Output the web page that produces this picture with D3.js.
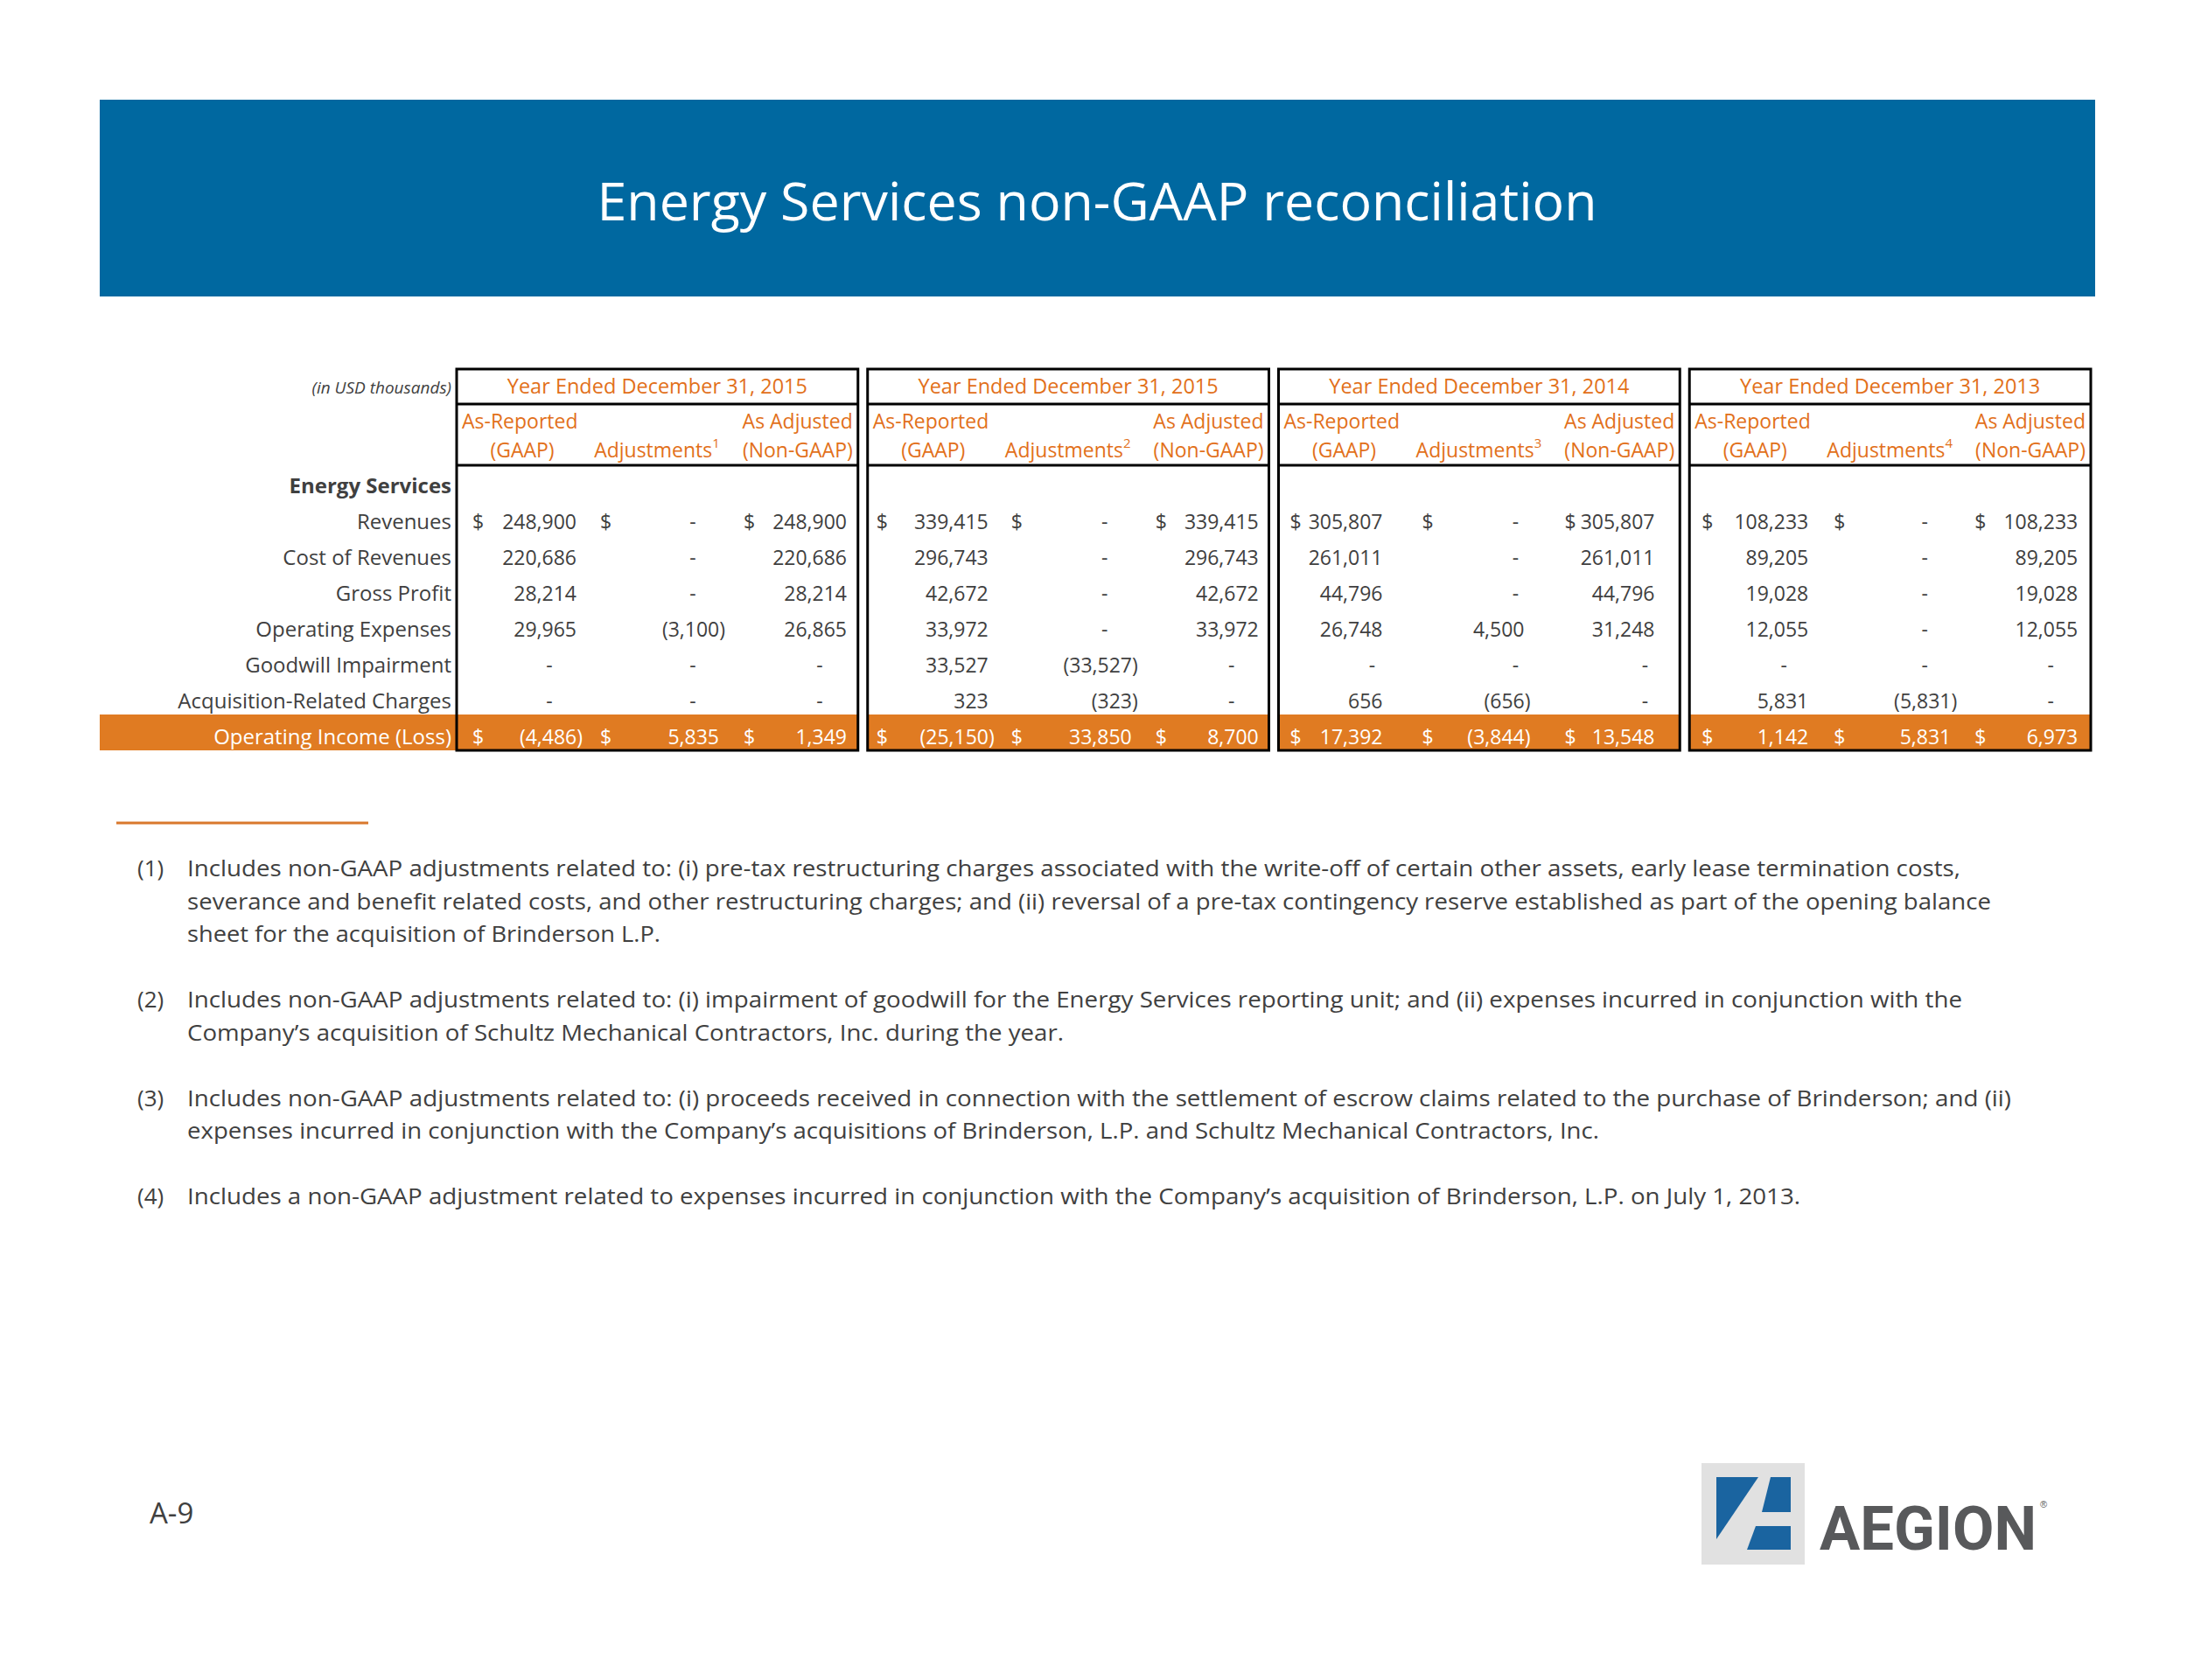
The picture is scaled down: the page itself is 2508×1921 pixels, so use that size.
<!DOCTYPE html>
<html><head><meta charset="utf-8">
<script src="https://cdn.jsdelivr.net/npm/d3@7"></script>
<style>body{margin:0;background:#fff}svg{display:block}</style>
</head><body>
<svg id="chart" width="2508" height="1921"></svg>
<script>
// ---------- DATA ----------
const titleText = "Energy Services non-GAAP reconciliation";
const unitNote = "(in USD thousands)";
const periodTitles = ["Year Ended December 31, 2015", "Year Ended December 31, 2015", "Year Ended December 31, 2014", "Year Ended December 31, 2013"];
const footnoteMarks = ["1", "2", "3", "4"];
const sectionLabel = "Energy Services";
const rowLabels = ["Revenues", "Cost of Revenues", "Gross Profit", "Operating Expenses", "Goodwill Impairment", "Acquisition-Related Charges", "Operating Income (Loss)"];
const dollarRows = ["Revenues", "Operating Income (Loss)"];
const totalRow = "Operating Income (Loss)";

// Period 1: Year ended Dec 31, 2015 (footnote 1)
const gaapP1 = [248900, 220686, 28214, 29965, 0, 0, -4486];
const adjP1  = [0, 0, 0, -3100, 0, 0, 5835];
const nonP1  = [248900, 220686, 28214, 26865, 0, 0, 1349];
// Period 2: Year ended Dec 31, 2015 (footnote 2)
const gaapP2 = [339415, 296743, 42672, 33972, 33527, 323, -25150];
const adjP2  = [0, 0, 0, 0, -33527, -323, 33850];
const nonP2  = [339415, 296743, 42672, 33972, 0, 0, 8700];
// Period 3: Year ended Dec 31, 2014 (footnote 3)
const gaapP3 = [305807, 261011, 44796, 26748, 0, 656, 17392];
const adjP3  = [0, 0, 0, 4500, 0, -656, -3844];
const nonP3  = [305807, 261011, 44796, 31248, 0, 0, 13548];
// Period 4: Year ended Dec 31, 2013 (footnote 4)
const gaapP4 = [108233, 89205, 19028, 12055, 0, 5831, 1142];
const adjP4  = [0, 0, 0, 0, 0, -5831, 5831];
const nonP4  = [108233, 89205, 19028, 12055, 0, 0, 6973];

const notes = [
  ["(1)", ["Includes non-GAAP adjustments related to: (i) pre-tax restructuring charges associated with the write-off of certain other assets, early lease termination costs,",
           "severance and benefit related costs, and other restructuring charges; and (ii) reversal of a pre-tax contingency reserve established as part of the opening balance",
           "sheet for the acquisition of Brinderson L.P."]],
  ["(2)", ["Includes non-GAAP adjustments related to: (i) impairment of goodwill for the Energy Services reporting unit; and (ii) expenses incurred in conjunction with the",
           "Company\u2019s acquisition of Schultz Mechanical Contractors, Inc. during the year."]],
  ["(3)", ["Includes non-GAAP adjustments related to: (i) proceeds received in connection with the settlement of escrow claims related to the purchase of Brinderson; and (ii)",
           "expenses incurred in conjunction with the Company\u2019s acquisitions of Brinderson, L.P. and Schultz Mechanical Contractors, Inc."]],
  ["(4)", ["Includes a non-GAAP adjustment related to expenses incurred in conjunction with the Company\u2019s acquisition of Brinderson, L.P. on July 1, 2013."]]
];
const pageLabel = "A-9";
const logoText = "AEGION";

// ---------- LAYOUT / STYLE ----------
const FONT = "'Open Sans','Noto Sans',sans-serif";
const BLUE = "#0068a0", ORANGE_FILL = "#e07b22", ORANGE_TXT = "#e2701a", GRAY = "#404040";
const periods = [
  {title: periodTitles[0], mark: footnoteMarks[0], cols: [gaapP1, adjP1, nonP1]},
  {title: periodTitles[1], mark: footnoteMarks[1], cols: [gaapP2, adjP2, nonP2]},
  {title: periodTitles[2], mark: footnoteMarks[2], cols: [gaapP3, adjP3, nonP3]},
  {title: periodTitles[3], mark: footnoteMarks[3], cols: [gaapP4, adjP4, nonP4]}
];
// per-box column offsets: dollar sign start, number right edge, dash centre
const boxLayout = [
  {dol: [18, 164, 328], right: [137, 300, 446], dash: [106, 270, 415]},
  {dol: [10, 164, 329], right: [138, 302, 447], dash: [107, 271, 416]},
  {dol: [13, 164, 327], right: [119, 281, 430], dash: [107, 271, 419]},
  {dol: [14, 165, 326], right: [136, 299, 444], dash: [108, 269, 413]}
];

const svg = d3.select("#chart");
svg.append("rect").attr("width", 2508).attr("height", 1921).attr("fill", "#fff");

// Title band
svg.append("rect").attr("x", 114).attr("y", 114).attr("width", 2281).attr("height", 225).attr("fill", BLUE);
svg.append("text").attr("x", 1254).attr("y", 252).attr("text-anchor", "middle")
  .attr("font-family", FONT).attr("font-size", 60).attr("fill", "#fff")
  .attr("textLength", 1143).attr("lengthAdjust", "spacingAndGlyphs").text(titleText);

// Scales
const allRows = [sectionLabel].concat(rowLabels);
const y = d3.scaleBand().domain(allRows).range([530, 858]);
const x = d3.scaleBand().domain(d3.range(periods.length)).range([522, 2390]).paddingInner(0.0234);
const bw = x.bandwidth();
const base = r => y(r) + y.bandwidth() - 7;
const fmt = d3.format(",");
function fmtVal(v) { if (v === 0) return null; const s = fmt(Math.abs(v)); return v < 0 ? "(" + s + ")" : s; }

// Orange total row label area
svg.append("rect").attr("x", 114).attr("y", y(totalRow)).attr("width", 522 - 114).attr("height", y.bandwidth()).attr("fill", ORANGE_FILL);

// Row labels
svg.append("text").attr("x", 516).attr("y", 450).attr("text-anchor", "end")
  .attr("font-family", FONT).attr("font-style", "italic").attr("font-size", 19).attr("fill", GRAY).text(unitNote);
svg.selectAll("text.rl").data(allRows).join("text").attr("class", "rl")
  .attr("x", 516).attr("y", d => base(d)).attr("text-anchor", "end")
  .attr("font-family", FONT).attr("font-size", 24)
  .attr("font-weight", d => d === sectionLabel ? 700 : 400)
  .attr("fill", d => d === totalRow ? "#fff" : GRAY)
  .text(d => d);

// Boxes
const boxes = svg.selectAll("g.box").data(periods).join("g").attr("class", "box")
  .attr("transform", (d, i) => `translate(${x(i)},0)`);

boxes.append("rect").attr("x", 0).attr("y", y(totalRow)).attr("width", bw).attr("height", y.bandwidth()).attr("fill", ORANGE_FILL);

boxes.each(function (p, i) {
  const g = d3.select(this);
  const L = boxLayout[i];
  // headers
  g.append("text").attr("x", bw / 2).attr("y", 450).attr("text-anchor", "middle")
    .attr("font-family", FONT).attr("font-size", 23.5).attr("fill", ORANGE_TXT).text(p.title);
  const h = (tx, ax, yy, anchor) => g.append("text").attr("x", ax).attr("y", yy).attr("text-anchor", anchor)
    .attr("font-family", FONT).attr("font-size", 23).attr("fill", ORANGE_TXT).text(tx);
  h("As-Reported", 6, 490, "start");
  h("(GAAP)", 75, 523, "middle");
  h("As Adjusted", bw - 6, 490, "end");
  h("(Non-GAAP)", bw - 6, 523, "end");
  const adj = h("Adjustments", 229, 523, "middle");
  adj.append("tspan").attr("font-size", 15).attr("dy", -11).text(p.mark);

  // values
  p.cols.forEach((col, c) => {
    col.forEach((v, r) => {
      const row = rowLabels[r];
      const yy = base(row);
      const color = row === totalRow ? "#fff" : GRAY;
      if (dollarRows.includes(row)) {
        g.append("text").attr("x", L.dol[c]).attr("y", yy).attr("font-family", FONT).attr("font-size", 23).attr("fill", color).text("$");
      }
      const s = fmtVal(v);
      if (s === null) {
        g.append("text").attr("x", L.dash[c]).attr("y", yy).attr("text-anchor", "middle").attr("font-family", FONT).attr("font-size", 23).attr("fill", color).text("-");
      } else {
        g.append("text").attr("x", L.right[c] + (v < 0 ? 7 : 0)).attr("y", yy).attr("text-anchor", "end").attr("font-family", FONT).attr("font-size", 23).attr("fill", color).text(s);
      }
    });
  });

  // borders
  g.append("rect").attr("x", 0).attr("y", 422).attr("width", bw).attr("height", 858 - 422).attr("fill", "none").attr("stroke", "#000").attr("stroke-width", 3);
  g.append("line").attr("x1", 0).attr("x2", bw).attr("y1", 462).attr("y2", 462).attr("stroke", "#000").attr("stroke-width", 3);
  g.append("line").attr("x1", 0).attr("x2", bw).attr("y1", 532).attr("y2", 532).attr("stroke", "#000").attr("stroke-width", 3);
});

// Separator line
svg.append("line").attr("x1", 133).attr("x2", 421).attr("y1", 941).attr("y2", 941).attr("stroke", "#d9782d").attr("stroke-width", 3);

// Notes
const noteBaselines = [[1002, 1040, 1077], [1152, 1190], [1265, 1302], [1377]];
const noteWidths = [[2027, 2062, 541], [2029, 1002], [2085, 1614], [1844]];
notes.forEach((n, i) => {
  svg.append("text").attr("x", 157).attr("y", noteBaselines[i][0]).attr("font-family", FONT).attr("font-size", 26).attr("fill", GRAY).text(n[0]);
  n[1].forEach((line, j) => {
    svg.append("text").attr("x", 214).attr("y", noteBaselines[i][j]).attr("font-family", FONT).attr("font-size", 26).attr("fill", GRAY)
      .attr("textLength", noteWidths[i][j]).attr("lengthAdjust", "spacingAndGlyphs").text(line);
  });
});

// Page label
svg.append("text").attr("x", 171).attr("y", 1742).attr("font-family", FONT).attr("font-size", 33).attr("fill", GRAY).text(pageLabel);

// Logo
const logo = svg.append("g");
logo.append("rect").attr("x", 1945).attr("y", 1673).attr("width", 118).attr("height", 116).attr("fill", "#e1e1e1");
const LB = "#1a64a0";
[
  [[1962, 1689], [2010, 1689], [1962, 1760]],
  [[2024, 1689], [2047, 1689], [2047, 1729], [2014, 1729]],
  [[2007, 1745], [2047, 1745], [2047, 1772], [1997, 1772]]
].forEach(pts => logo.append("polygon").attr("points", pts.map(p => p.join(",")).join(" ")).attr("fill", LB));
logo.append("text").attr("x", 2080).attr("y", 1772).attr("font-family", "Roboto, 'Liberation Sans', sans-serif").attr("font-weight", 700)
  .attr("font-size", 70).attr("fill", "#58595b").attr("textLength", 248).attr("lengthAdjust", "spacingAndGlyphs").text(logoText);
logo.append("text").attr("x", 2332).attr("y", 1724).attr("font-family", "'Liberation Sans', sans-serif").attr("font-size", 11).attr("fill", "#58595b").text("\u00AE");
</script>
</body></html>
